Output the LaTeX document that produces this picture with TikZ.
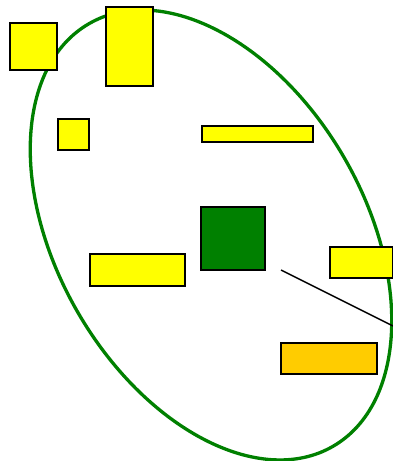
\documentclass[tikz,border=0pt]{standalone}
\usepackage{xcolor}
\usepackage{tikz}
\definecolor{boxyellow}{rgb}{1,1,0}
\definecolor{boxgreen}{rgb}{0,0.5,0}
\definecolor{boxorange}{rgb}{1,0.8,0}
\begin{document}
\begin{tikzpicture}[x=1pt, y=1pt,
      box/.style={draw, line width=1.5pt, fill=boxyellow, inner sep=0pt},
      core/.style={draw, line width=1.5pt, fill=boxgreen, inner sep=0pt,
                   minimum width=64pt, minimum height=63pt},
      warm/.style={draw, line width=1.5pt, fill=boxorange, inner sep=0pt,
                   minimum width=96pt, minimum height=31pt},
      ring/.style={draw=boxgreen, line width=3.3pt},
      link/.style={line width=1.4pt}
  ]
    \useasboundingbox (0,0) rectangle (393,461);
    \draw[ring] (211,226) ellipse [x radius=244, y radius=154, rotate=-60];
    \node[box, minimum width=47pt, minimum height=47pt] (a) at (33.5,414.5) {};
    \node[box, minimum width=47pt, minimum height=79pt] (b) at (129.5,414.5) {};
    \node[box, minimum width=31pt, minimum height=31pt] (c) at (73.5,326.5) {};
    \node[box, minimum width=111pt, minimum height=16pt] (d) at (257.5,327) {};
    \node[core] (g) at (233,222.5) {};
    \node[box, minimum width=95pt, minimum height=32pt] (e) at (137.5,191) {};
    \node[box, minimum width=63pt, minimum height=31pt] (f) at (361.5,198.5) {};
    \node[warm] (h) at (329,102.5) {};
    \coordinate (s) at (281,191);
    \coordinate (t) at (393,135);
    \draw[link] (s)--(t);
  \end{tikzpicture}
\end{document}
